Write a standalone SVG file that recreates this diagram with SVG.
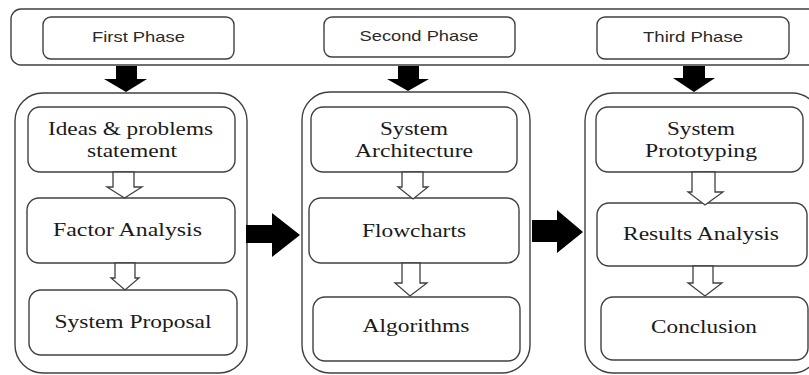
<svg xmlns="http://www.w3.org/2000/svg" width="809" height="375" viewBox="0 0 809 375">
<style>
.box{fill:#fff;stroke:#404040;stroke-width:1.4}
.ph{font-family:"Liberation Sans",Arial,sans-serif;font-size:15px;fill:#2a2a2a;text-anchor:middle}
.tx{font-family:"Liberation Serif","Times New Roman",serif;font-size:18px;fill:#1a1a1a;text-anchor:middle}
.blk{fill:#000;stroke:none}
.hol{fill:#fff;stroke:#404040;stroke-width:1.3;stroke-linejoin:miter}
</style>
<rect width="809" height="375" fill="#fff"/>
<g id="phase-bar">
<rect class="box" x="11" y="9" width="830" height="56" rx="10"/>
</g>
<g id="first-phase">
<rect class="box" x="43" y="17" width="191" height="42" rx="8"/>
<text class="ph" x="138.5" y="42" textLength="93" lengthAdjust="spacingAndGlyphs">First Phase</text>
</g>
<g id="second-phase">
<rect class="box" x="324" y="17" width="191" height="40" rx="8"/>
<text class="ph" x="419" y="41" textLength="119" lengthAdjust="spacingAndGlyphs">Second Phase</text>
</g>
<g id="third-phase">
<rect class="box" x="597" y="17" width="192" height="42" rx="8"/>
<text class="ph" x="693" y="42" textLength="100" lengthAdjust="spacingAndGlyphs">Third Phase</text>
</g>
<g id="container-1"><rect class="box" x="15" y="93" width="232" height="280" rx="28"/></g>
<g id="container-2"><rect class="box" x="302" y="92" width="228" height="281" rx="28"/></g>
<g id="container-3"><rect class="box" x="585" y="93" width="235" height="280" rx="28"/></g>
<g id="ideas">
<rect class="box" x="28" y="107" width="207" height="65" rx="12"/>
<text class="tx" x="130.5" y="135" textLength="165" lengthAdjust="spacingAndGlyphs">Ideas &amp; problems</text>
<text class="tx" x="132" y="157" textLength="90" lengthAdjust="spacingAndGlyphs">statement</text>
</g>
<g id="factor-analysis">
<rect class="box" x="27" y="198" width="208" height="65" rx="12"/>
<text class="tx" x="127.5" y="236" textLength="149" lengthAdjust="spacingAndGlyphs">Factor Analysis</text>
</g>
<g id="system-proposal">
<rect class="box" x="29" y="290" width="208" height="65" rx="12"/>
<text class="tx" x="133" y="328" textLength="157" lengthAdjust="spacingAndGlyphs">System Proposal</text>
</g>
<g id="system-architecture">
<rect class="box" x="311" y="107" width="206" height="65" rx="12"/>
<text class="tx" x="414" y="135" textLength="68" lengthAdjust="spacingAndGlyphs">System</text>
<text class="tx" x="414" y="157" textLength="118" lengthAdjust="spacingAndGlyphs">Architecture</text>
</g>
<g id="flowcharts">
<rect class="box" x="309" y="198" width="210" height="65" rx="12"/>
<text class="tx" x="414" y="237" textLength="104" lengthAdjust="spacingAndGlyphs">Flowcharts</text>
</g>
<g id="algorithms">
<rect class="box" x="313" y="297" width="207" height="64" rx="12"/>
<text class="tx" x="416" y="332" textLength="107" lengthAdjust="spacingAndGlyphs">Algorithms</text>
</g>
<g id="system-prototyping">
<rect class="box" x="596" y="107" width="207" height="65" rx="12"/>
<text class="tx" x="701" y="135" textLength="68" lengthAdjust="spacingAndGlyphs">System</text>
<text class="tx" x="701" y="157" textLength="112" lengthAdjust="spacingAndGlyphs">Prototyping</text>
</g>
<g id="results-analysis">
<rect class="box" x="597" y="203" width="210" height="63" rx="12"/>
<text class="tx" x="701" y="240" textLength="156" lengthAdjust="spacingAndGlyphs">Results Analysis</text>
</g>
<g id="conclusion">
<rect class="box" x="601" y="297" width="207" height="63" rx="12"/>
<text class="tx" x="704" y="333" textLength="106" lengthAdjust="spacingAndGlyphs">Conclusion</text>
</g>
<g id="connectors">
<polygon class="blk" points="116,66 137,66 137,79 147,79 126,92 104,79 116,79"/>
<polygon class="blk" points="398,66 419,66 419,79 429,79 408,91 387,79 398,79"/>
<polygon class="blk" points="683,66 705,66 705,78 715,78 694,92 673,78 683,78"/>
<polygon class="blk" points="246,225 272,225 272,213 300,235 272,257 272,243 246,243"/>
<polygon class="blk" points="532,220 557,220 557,210 583,232 557,253 557,242 532,242"/>
<polygon class="hol" points="113,172 134,172 134,187 142,187 124.5,198 107,187 113,187"/>
<polygon class="hol" points="115,263 135,263 135,278 139,278 125,290 111,278 115,278"/>
<polygon class="hol" points="402,172 423,172 423,187 428,187 413,199 398,187 402,187"/>
<polygon class="hol" points="402,263 420,263 420,283 427,283 410,296 395,283 402,283"/>
<polygon class="hol" points="692,172 715,172 715,192 723,192 705,205 688,192 692,192"/>
<polygon class="hol" points="693,266 713,266 713,283 722,283 705,296 688,283 693,283"/>
</g>
</svg>
